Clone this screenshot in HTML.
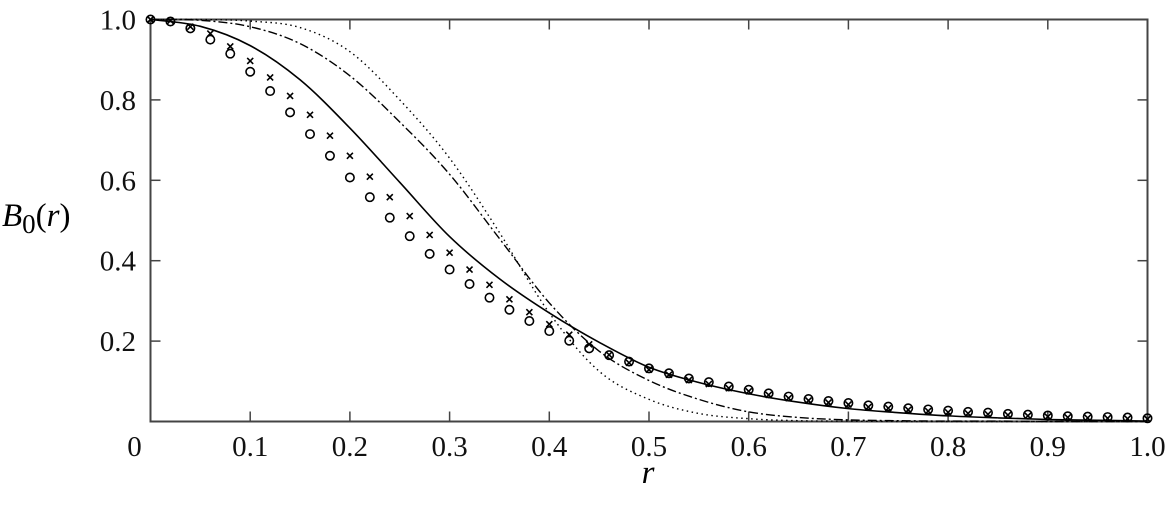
<!DOCTYPE html>
<html><head><meta charset="utf-8"><style>
html,body{margin:0;padding:0;background:#fff;}
svg{display:block;font-family:"Liberation Serif",serif;}
</style></head><body>
<svg id="chart" width="1165" height="505" xmlns="http://www.w3.org/2000/svg">
<g id="axes"></g>
<g id="series"></g>
<text x="2" y="226" font-size="33" font-style="italic">B<tspan font-style="normal" font-size="27" dy="7">0</tspan><tspan dy="-7" font-style="normal">(</tspan>r<tspan font-style="normal">)</tspan></text>
<text x="648" y="483" font-size="33" font-style="italic" text-anchor="middle">r</text>
</svg>
<script>
const xTicks = [0,0.1,0.2,0.3,0.4,0.5,0.6,0.7,0.8,0.9,1.0];
const xTickLabels = ["0","0.1","0.2","0.3","0.4","0.5","0.6","0.7","0.8","0.9","1.0"];
const yTicks = [0.2,0.4,0.6,0.8,1.0];
const yTickLabels = ["0.2","0.4","0.6","0.8","1.0"];
const markerR = [0,0.02,0.04,0.06,0.08,0.10,0.12,0.14,0.16,0.18,0.20,0.22,0.24,0.26,0.28,0.30,0.32,0.34,0.36,0.38,0.40,0.42,0.44,0.46,0.48,0.50,0.52,0.54,0.56,0.58,0.60,0.62,0.64,0.66,0.68,0.70,0.72,0.74,0.76,0.78,0.80,0.82,0.84,0.86,0.88,0.90,0.92,0.94,0.96,0.98,1.00];
const circles = [1.0,0.995,0.978,0.950,0.915,0.870,0.822,0.769,0.715,0.661,0.607,0.558,0.507,0.461,0.417,0.378,0.342,0.308,0.278,0.250,0.225,0.201,0.182,0.165,0.149,0.132,0.120,0.107,0.098,0.087,0.079,0.070,0.062,0.056,0.051,0.046,0.040,0.037,0.033,0.030,0.027,0.024,0.022,0.019,0.017,0.015,0.013,0.012,0.011,0.010,0.008];
const crosses = [1.0,0.997,0.982,0.965,0.933,0.897,0.856,0.810,0.763,0.711,0.661,0.609,0.558,0.511,0.464,0.420,0.378,0.340,0.304,0.272,0.242,0.216,0.192,0.166,0.146,0.129,0.116,0.103,0.093,0.083,0.075,0.066,0.058,0.052,0.047,0.042,0.036,0.033,0.029,0.026,0.023,0.020,0.018,0.016,0.014,0.012,0.010,0.009,0.008,0.007,0.006];
const curveR = [0,0.05,0.1,0.15,0.2,0.25,0.3,0.35,0.4,0.45,0.5,0.55,0.6,0.65,0.7,0.75,0.8,0.85,0.9,0.95,1.0];
const solid = [1.0,0.983,0.935,0.850,0.730,0.595,0.460,0.355,0.270,0.197,0.135,0.097,0.069,0.048,0.032,0.022,0.014,0.009,0.005,0.003,0.001];
const dashDot = [1.0,0.998,0.982,0.940,0.860,0.745,0.615,0.455,0.295,0.175,0.102,0.055,0.024,0.010,0.004,0.002,0.001,0.001,0,0,0];
const dotted = [1.0,1.0,0.996,0.980,0.920,0.800,0.655,0.470,0.270,0.125,0.055,0.020,0.007,0.002,0.001,0,0,0,0,0,0];

const X0=150.5, X1=1147.5, Y0=421.5, Y1=19.5;
const xs = v => X0 + v*(X1-X0);
const ys = v => Y0 - v*(Y0-Y1);
const NS="http://www.w3.org/2000/svg";
const axes=document.getElementById('axes'), ser=document.getElementById('series');
function mk(tag, attrs, parent){const e=document.createElementNS(NS,tag);for(const k in attrs)e.setAttribute(k,attrs[k]);parent.appendChild(e);return e;}

const frame=mk('rect',{x:X0,y:Y1,width:X1-X0,height:Y0-Y1,fill:'none',stroke:'#444','stroke-width':2},axes);


xTicks.forEach((t,i)=>{
  const x=xs(t);
  if(i>0&&i<xTicks.length-1){
    mk('line',{x1:x,x2:x,y1:Y0,y2:Y0-10,stroke:'#444','stroke-width':1.5},axes);
    mk('line',{x1:x,x2:x,y1:Y1,y2:Y1+10,stroke:'#444','stroke-width':1.5},axes);
  }
  const tx=mk('text',{x:(i==0?x-16:x),y:456,'font-size':29,'text-anchor':'middle',fill:'#111'},axes);
  tx.textContent=xTickLabels[i];
  
  
});
yTicks.forEach((t,i)=>{
  const y=ys(t);
  if(t<1){
    mk('line',{x1:X0,x2:X0+10,y1:y,y2:y,stroke:'#444','stroke-width':1.5},axes);
    mk('line',{x1:X1,x2:X1-10,y1:y,y2:y,stroke:'#444','stroke-width':1.5},axes);
  }
  const tx=mk('text',{x:136,y:y+10,'font-size':29,'text-anchor':'end',fill:'#111'},axes);
  tx.textContent=yTickLabels[i];
  
  
});

function pathD(rs,vs){
  const p=rs.map((r,i)=>[xs(r),ys(vs[i])]);
  let d='M'+p[0][0]+','+p[0][1];
  for(let i=0;i<p.length-1;i++){
    const a=p[Math.max(0,i-1)],b=p[i],c=p[i+1],e=p[Math.min(p.length-1,i+2)];
    const c1=[b[0]+(c[0]-a[0])/6,b[1]+(c[1]-a[1])/6], c2=[c[0]-(e[0]-b[0])/6,c[1]-(e[1]-b[1])/6];
    d+=` C${c1[0]},${c1[1]} ${c2[0]},${c2[1]} ${c[0]},${c[1]}`;
  }
  return d;
}
const l1=mk('path',{d:pathD(curveR,solid),fill:'none',stroke:'#000','stroke-width':1.6},ser);


const l2=mk('path',{d:pathD(curveR,dashDot),fill:'none',stroke:'#000','stroke-width':1.4,'stroke-dasharray':'9 3 2 3'},ser);


const l3=mk('path',{d:pathD(curveR,dotted),fill:'none',stroke:'#000','stroke-width':1.4,'stroke-dasharray':'1.5 3.5'},ser);



markerR.forEach((r,i)=>{
  const x=xs(r), y=ys(crosses[i]);
  const g=mk('path',{d:`M${x-3},${y-3}L${x+3},${y+3}M${x-3},${y+3}L${x+3},${y-3}`,stroke:'#000','stroke-width':1.6},ser);
  
  
});
markerR.forEach((r,i)=>{
  const c=mk('circle',{cx:xs(r),cy:ys(circles[i]),r:4.2,fill:'none',stroke:'#000','stroke-width':1.6},ser);
  
  
});
</script>
</body></html>
